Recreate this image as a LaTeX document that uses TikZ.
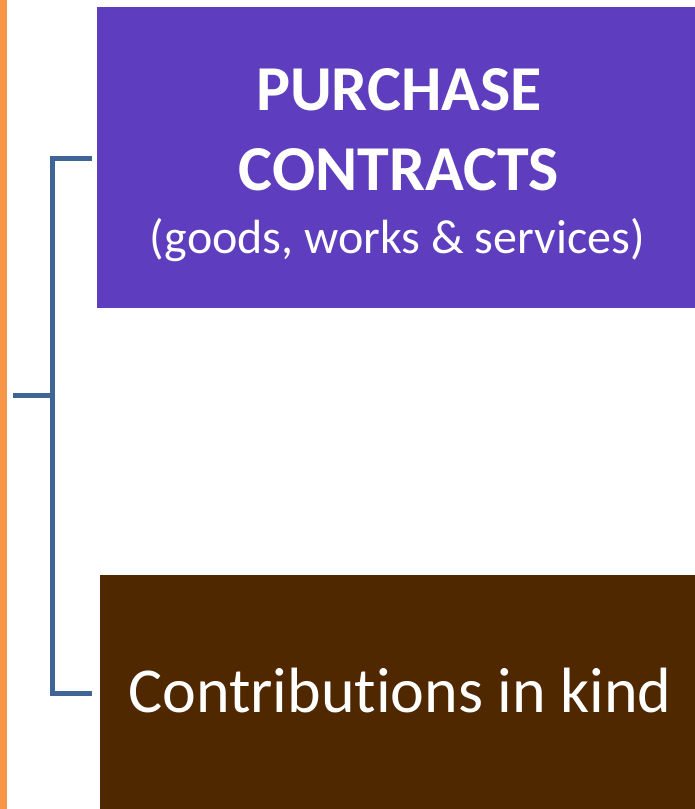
\documentclass[tikz,border=0pt]{standalone}
\usepackage{fontspec}
\setmainfont{Carlito}[Ligatures={NoCommon}]
\definecolor{sidebar}{RGB}{247,150,70}
\definecolor{purplebox}{RGB}{94,62,190}
\definecolor{brownbox}{RGB}{80,40,0}
\definecolor{bracketblue}{RGB}{62,101,150}
\begin{document}
\begin{tikzpicture}[x=1pt,y=-1pt,
  boxstyle/.style={inner sep=0pt, outer sep=0pt, text=white, align=center},
  link/.style={draw=bracketblue, line width=5pt}]
\useasboundingbox (0,0) rectangle (695,809);
% orange rule along the left edge
\fill[sidebar] (0,0) rectangle (7,809);
% category boxes
\fill[purplebox] (97,7) rectangle (695,308);
\fill[brownbox] (99.5,575) rectangle (695,809);
\node[boxstyle, font=\fontsize{64}{78}\selectfont\bfseries, anchor=base] (purchase) at (399,110) {PURCHASE};
\node[boxstyle, font=\fontsize{64}{78}\selectfont\bfseries, anchor=base] (contracts) at (399,190) {CONTRACTS};
\node[boxstyle, font=\fontsize{48}{56}\selectfont, anchor=base] (goods) at (397.5,253) {(goods, works \& services)};
\node[boxstyle, font=\fontsize{64}{76}\selectfont, anchor=base] (kind) at (400,712) {Contributions in kind};
% bracket joining the two boxes
\coordinate (top) at (92,158);
\coordinate (bot) at (92,693);
\coordinate (stem) at (13,395.5);
\coordinate (jtop) at (52.5,158);
\coordinate (jmid) at (52.5,395.5);
\coordinate (jbot) at (52.5,693);
\draw[link] (top) -- (jtop) -- (jbot) -- (bot);
\draw[link] (stem) -- (jmid);
\end{tikzpicture}
\end{document}
